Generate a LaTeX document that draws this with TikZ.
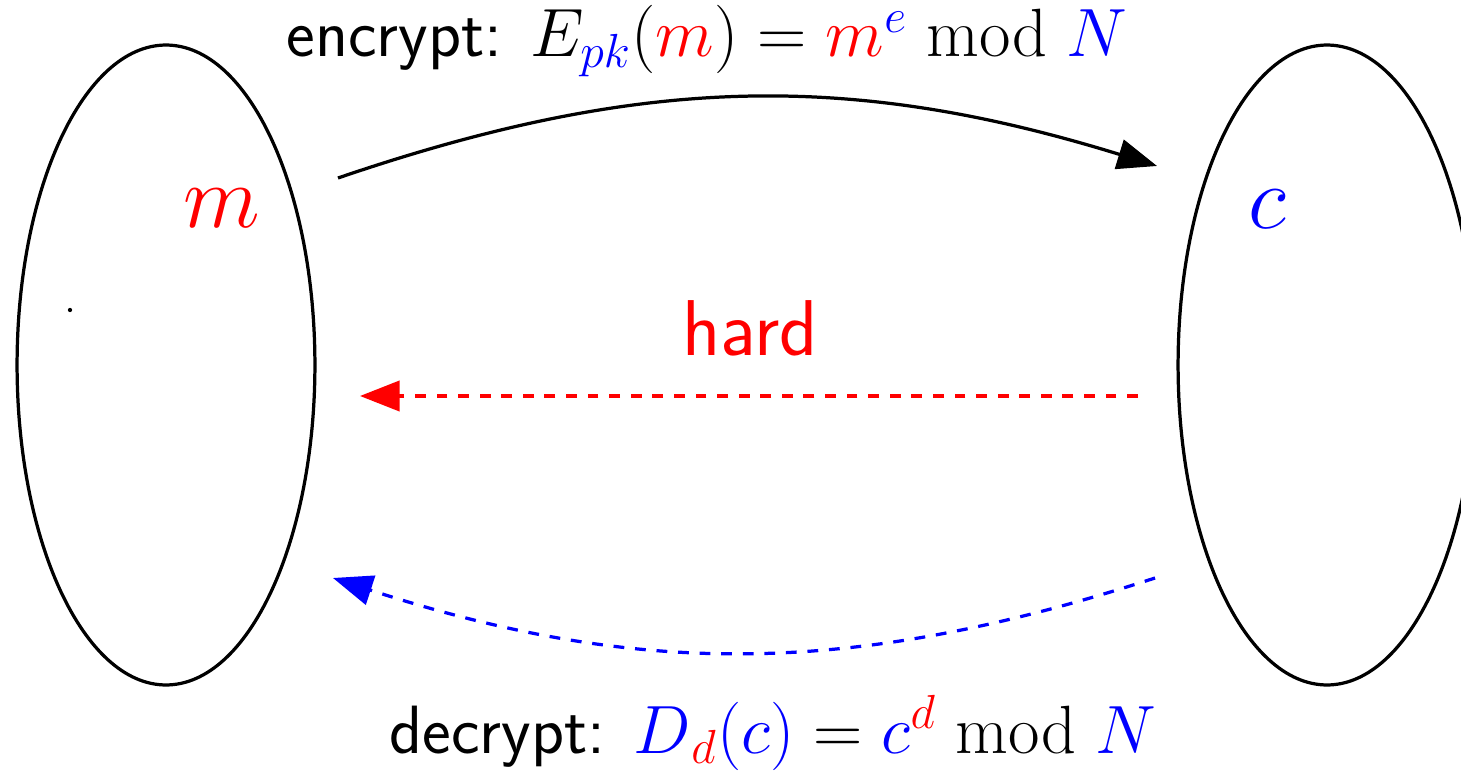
\documentclass[tikz,border=0pt]{standalone}
\usepackage{fix-cm}
\usetikzlibrary{arrows.meta,shapes.geometric}
\tikzset{
  rsa/set/.style={
    ellipse,
    draw=black,
    line width=0.9pt,
    inner sep=0pt,
    minimum width=82.8pt,
    minimum height=177.9pt
  },
  rsa/elem/.style={font=\fontsize{24.88pt}{29pt}\selectfont, inner sep=0pt, anchor=base},
  rsa/label/.style={font=\fontsize{19pt}{23pt}\selectfont\sffamily, inner sep=0pt, anchor=base},
  rsa/hard/.style={font=\fontsize{22pt}{26pt}\selectfont\sffamily, text=red, inner sep=0pt, anchor=base},
  rsa/arrow/.style={-{Triangle[length=11pt,width=8.4pt]}, line width=0.9pt, draw=black},
  rsa/hardarrow/.style={-{Triangle[length=11pt,width=8.4pt]}, line width=0.9pt, dashed, draw=red},
  rsa/decarrow/.style={-{Triangle[length=11pt,width=8.4pt]}, line width=0.9pt, dashed, draw=blue}
}

\begin{document}
\begin{tikzpicture}[x=0.278pt,y=0.278pt]
  \clip (0,0) rectangle (1461,774);
  % the two sets
  \node[rsa/set] (plain) at (166,409) {};
  \node[rsa/set] (cipher) at (1327,409) {};
  \node[circle, fill=black, inner sep=0pt, minimum size=1.2pt] (dot) at (70,464) {};
  \node[rsa/elem, text=red] (m) at (222,546) {$m$};
  \node[rsa/elem, text=blue] (c) at (1267,545) {$c$};

  % end points of the maps
  \coordinate (encS) at (338,596);
  \coordinate (encE) at (1157,608);
  \coordinate (hardS) at (1138,378);
  \coordinate (hardE) at (360,378);
  \coordinate (decS) at (1155,196);
  \coordinate (decE) at (333,196);

  \draw[rsa/arrow] (encS) to[bend left=18] (encE);
  \draw[rsa/hardarrow] (hardS) -- (hardE);
  \draw[rsa/decarrow] (decS) to[bend left=18] (decE);

  % labels
  \node[rsa/label] (enc) at (707,717)
    {encrypt: $E_{\textcolor{blue}{pk}}(\textcolor{red}{m}) = \textcolor{red}{m}^{\textcolor{blue}{e}} \bmod \textcolor{blue}{N}$};
  \node[rsa/hard] (hard) at (750,419) {hard};
  \node[rsa/label] (dec) at (773,21)
    {decrypt: $\textcolor{blue}{D}_{\textcolor{red}{d}}\textcolor{blue}{(c)} = \textcolor{blue}{c}^{\textcolor{red}{d}} \bmod \textcolor{blue}{N}$};
\end{tikzpicture}
\end{document}
